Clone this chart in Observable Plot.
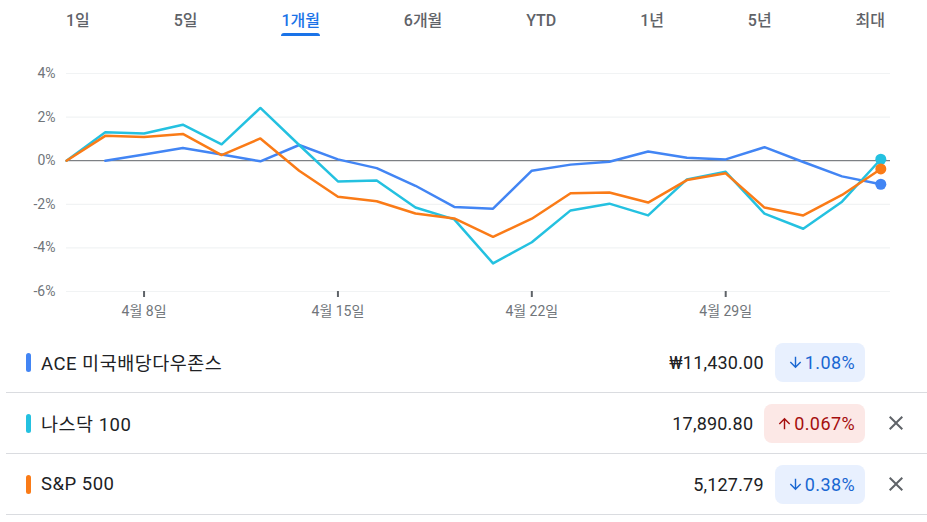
<!DOCTYPE html>
<html><head><meta charset="utf-8">
<script src="https://cdn.jsdelivr.net/npm/d3@7"></script>
<script src="https://cdn.jsdelivr.net/npm/@observablehq/plot@0.6"></script>
<style>
body{margin:0;background:#fff;font-family:Roboto,"Noto Sans CJK KR",sans-serif;width:927px;height:522px;overflow:hidden}
.tabs{display:flex;justify-content:space-between;padding:0 42px 0 66px;height:50px;box-sizing:border-box}
.tab{position:relative;font-size:16px;font-weight:500;color:#5f6368;line-height:20px;padding-top:11px;height:40px;box-sizing:border-box;white-space:nowrap}
.tab.active{color:#1a73e8}
.tab.active::after{content:"";position:absolute;left:0;right:0;top:33px;height:3px;background:#1a73e8;border-radius:3px 3px 0 0}
#chart{height:282px}
#chart svg{display:block}
.row{display:flex;align-items:center;height:61px;margin-left:6px;border-bottom:1px solid #dadce0;box-sizing:border-box}
.sw{width:5px;height:19px;border-radius:3px;margin-left:20px}
.name{margin-left:10px;font-size:18.5px;letter-spacing:0.5px;color:#202124;white-space:nowrap}
.sp{flex:1}
.price{font-size:18px;letter-spacing:0.2px;color:#202124;white-space:nowrap}
.pill{margin-left:11px;height:39px;border-radius:8px;display:flex;align-items:center;padding:0 10px 0 12px;font-size:18px;letter-spacing:0.4px;white-space:nowrap}
.pill svg{margin-right:1px}
.pill.down{background:#e8f0fe;color:#1967d2}
.pill.up{background:#fce8e6;color:#a50e0e}
.xslot{width:62px;display:flex;justify-content:center;align-items:center}
</style></head>
<body>
<div class="tabs" id="tabs"></div>
<div id="chart"></div>
<div id="legend"></div>
<script>
const tabs = ["1일","5일","1개월","6개월","YTD","1년","5년","최대"];
const activeTab = "1개월";

const days = ["2024-04-04","2024-04-05","2024-04-08","2024-04-09","2024-04-10","2024-04-11","2024-04-12",
  "2024-04-15","2024-04-16","2024-04-17","2024-04-18","2024-04-19","2024-04-22","2024-04-23","2024-04-24",
  "2024-04-25","2024-04-26","2024-04-29","2024-04-30","2024-05-01","2024-05-02","2024-05-03"];
const tickDays = ["2024-04-08","2024-04-15","2024-04-22","2024-04-29"];
const tickLabels = ["4월 8일","4월 15일","4월 22일","4월 29일"];
const yTicks = [-6,-4,-2,0,2,4];

const names = ["ACE 미국배당다우존스","나스닥 100","S&P 500"];
const colors = ["#4285f4","#24c1e0","#fa7b17"];
const ace = [null,0,0.28,0.58,0.28,-0.03,0.72,0.06,-0.34,-1.15,-2.12,-2.2,-0.46,-0.18,-0.05,0.42,0.14,0.06,0.62,-0.06,-0.72,-1.08];
const nasdaq = [0,1.31,1.25,1.65,0.75,2.42,0.72,-0.95,-0.91,-2.15,-2.69,-4.71,-3.74,-2.28,-1.97,-2.51,-0.86,-0.51,-2.43,-3.12,-1.88,0.067];
const sp500 = [0,1.14,1.09,1.23,0.26,1.02,-0.46,-1.65,-1.86,-2.42,-2.65,-3.49,-2.66,-1.49,-1.46,-1.92,-0.89,-0.58,-2.15,-2.51,-1.57,-0.38];

const prices = ["₩11,430.00","17,890.80","5,127.79"];
const changes = ["1.08%","0.067%","0.38%"];
const directions = ["down","up","down"];
const removable = [false,true,true];

// tabs
const tabsEl = document.getElementById("tabs");
tabs.forEach(t => {
  const d = document.createElement("div");
  d.className = "tab" + (t === activeTab ? " active" : "");
  d.textContent = t;
  tabsEl.appendChild(d);
});

// data
const seriesVals = [ace, nasdaq, sp500];
const rows = [];
seriesVals.forEach((vals, s) => vals.forEach((v, i) => { if (v != null) rows.push({i, v, name: names[s]}); }));
const lastRows = seriesVals.map((vals, s) => ({i: vals.length - 1, v: vals[vals.length - 1], name: names[s]}));
const tickIdx = tickDays.map(d => days.indexOf(d));

const chart = Plot.plot({
  width: 927, height: 282,
  marginLeft: 66, marginRight: 37, marginTop: 23, marginBottom: 41,
  style: {fontFamily: "Roboto, 'Noto Sans CJK KR', sans-serif", fontSize: "14px", background: "#fff", overflow: "visible"},
  x: {domain: [0, 21.25], axis: null},
  y: {domain: [-6, 4], axis: null},
  color: {domain: names, range: colors},
  marks: [
    Plot.ruleY(yTicks.filter(d => d !== 0), {stroke: "#f1f3f4", strokeWidth: 1.2}),
    Plot.ruleY([0], {stroke: "#5f6368", strokeWidth: 1}),
    Plot.axisY(yTicks, {tickSize: 0, tickPadding: 11, label: null, tickFormat: d => d + "%", fill: "#70757a", fontSize: 14}),
    Plot.axisX(tickIdx, {tickSize: 6, tickPadding: 9, label: null, stroke: "#5f6368", strokeWidth: 2,
      tickFormat: d => tickLabels[tickIdx.indexOf(d)], fill: "#70757a", fontSize: 14}),
    ...names.map(n => Plot.line(rows.filter(r => r.name === n), {x: "i", y: "v", stroke: "name", strokeWidth: 2.5})),
    Plot.dot(lastRows, {x: "i", y: "v", fill: "name", r: 5.5})
  ]
});
document.getElementById("chart").appendChild(chart);

// legend
const arrowDown = '<svg width="17" height="17" viewBox="0 0 24 24"><path fill="currentColor" d="M20 12l-1.41-1.41L13 16.17V4h-2v12.17l-5.58-5.59L4 12l8 8 8-8z"/></svg>';
const arrowUp = '<svg width="17" height="17" viewBox="0 0 24 24"><path fill="currentColor" d="M4 12l1.41 1.41L11 7.83V20h2V7.83l5.58 5.59L20 12l-8-8-8 8z"/></svg>';
const closeIcon = '<svg width="24" height="24" viewBox="0 0 24 24"><path fill="#5f6368" d="M19 6.41L17.59 5 12 10.59 6.41 5 5 6.41 10.59 12 5 17.59 6.41 19 12 13.41 17.59 19 19 17.59 13.41 12z"/></svg>';
const legend = document.getElementById("legend");
names.forEach((n, k) => {
  const r = document.createElement("div");
  r.className = "row";
  r.innerHTML = `<div class="sw" style="background:${colors[k]}"></div>
    <div class="name">${n}</div><div class="sp"></div>
    <div class="price">${prices[k]}</div>
    <div class="pill ${directions[k]}">${directions[k] === "down" ? arrowDown : arrowUp}${changes[k]}</div>
    <div class="xslot">${removable[k] ? closeIcon : ""}</div>`;
  legend.appendChild(r);
});
</script>
</body></html>
